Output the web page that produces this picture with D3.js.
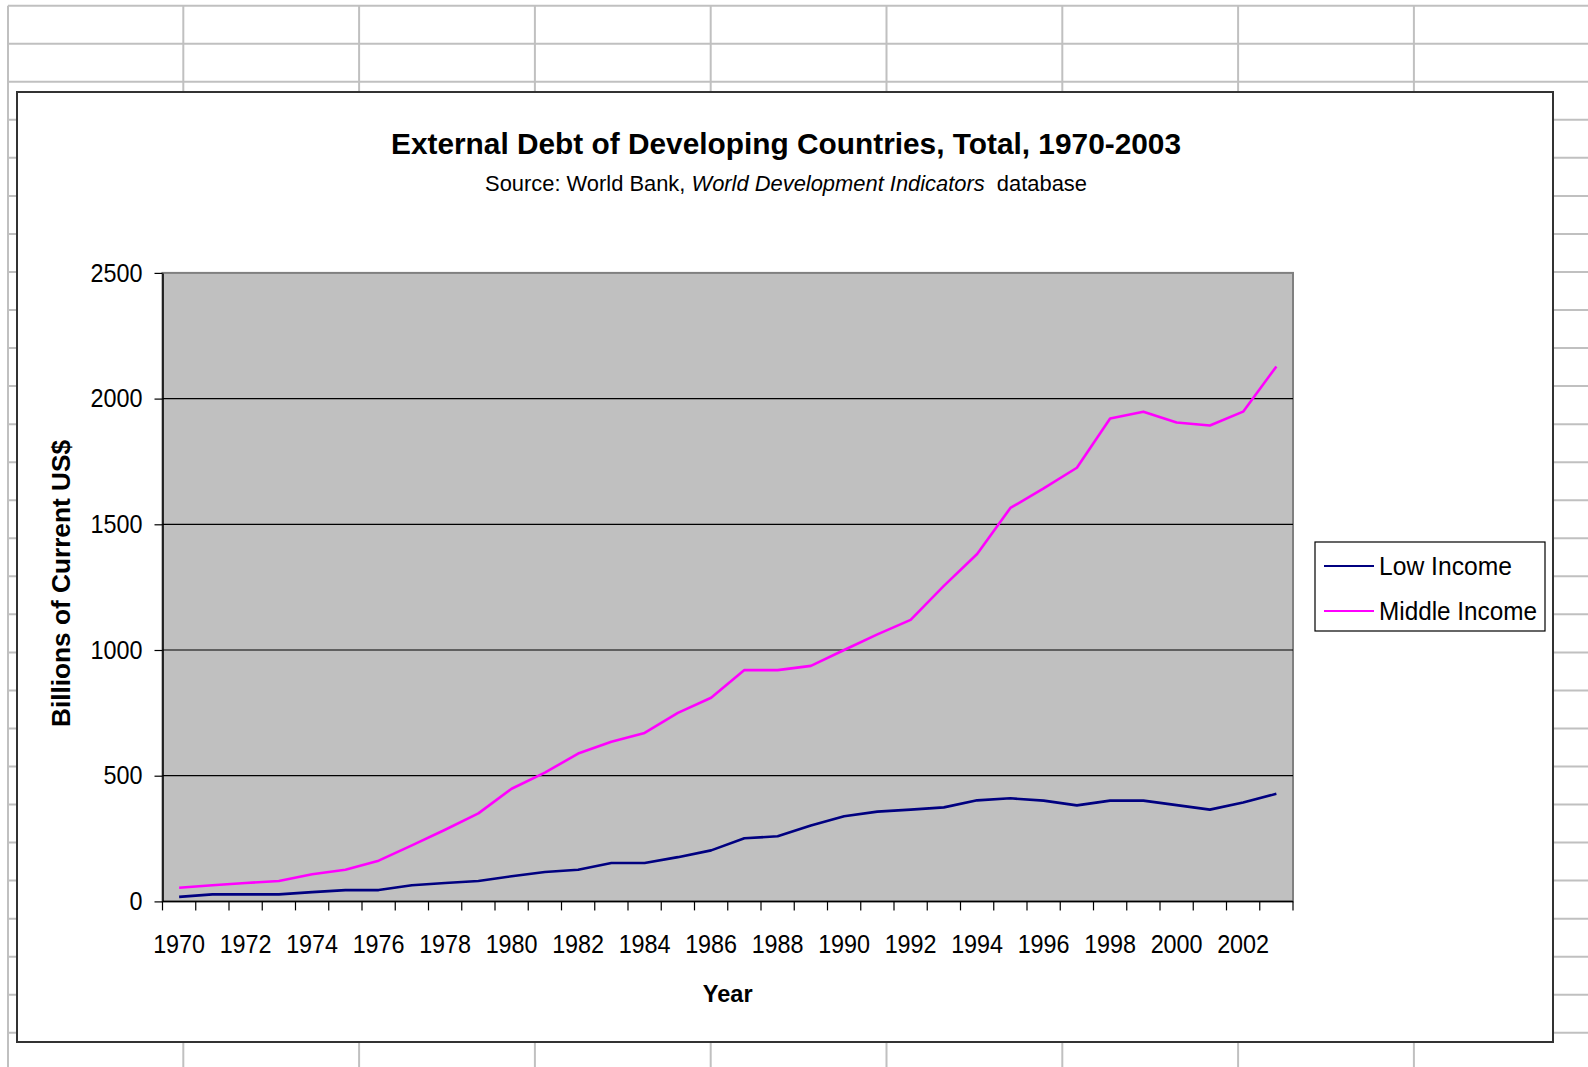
<!DOCTYPE html>
<html>
<head>
<meta charset="utf-8">
<script src="https://cdn.jsdelivr.net/npm/d3@7"></script>
<style>
  html, body { margin: 0; padding: 0; background: #fff; }
  svg { display: block; font-family: "Liberation Sans", Arial, sans-serif; }
</style>
</head>
<body>
<div id="chart"></div>
<script>
// years on the category axis
let years = d3.range(1970, 2004);
// every other year gets a label
let yearLabels = years.filter(function (y) { return (y - 1970) % 2 === 0; });
let yTicks = [0, 500, 1000, 1500, 2000, 2500];

// Billions of current US$
let lowIncome = [18, 28, 28, 28, 37, 45, 45, 64, 73, 81, 100, 117, 126, 153, 153, 176, 203,
  251, 259, 302, 339, 357, 365, 374, 402, 410, 401, 382, 401, 401, 383, 365, 393, 428];
let middleIncome = [54, 64, 73, 81, 108, 126, 162, 223, 285, 350, 448, 512, 588, 635, 670, 750, 810,
  920, 920, 937, 1000, 1062, 1120, 1255, 1382, 1565, 1643, 1725, 1921, 1948, 1905, 1893, 1948, 2128];

let seriesNames = ["Low Income", "Middle Income"];
let seriesColors = ["#000080", "#FF00FF"];

let width = 1588;
let height = 1067;

let svg = d3.select("#chart")
  .append("svg")
  .attr("width", width)
  .attr("height", height);

// spreadsheet cells behind the chart
let grid = svg.append("g").attr("stroke", "#c0c0c0").attr("stroke-width", 2);
for (let k = 0; k < 29; k++) {
  let y = 5.7 + k * 38.04;
  grid.append("line").attr("x1", 8).attr("x2", width).attr("y1", y).attr("y2", y);
}
for (let k = 0; k < 9; k++) {
  let x = k === 0 ? 8 : 183.3 + (k - 1) * 175.8;
  grid.append("line").attr("x1", x).attr("x2", x).attr("y1", 5.7).attr("y2", height);
}

// chart area
svg.append("rect")
  .attr("x", 17).attr("y", 92)
  .attr("width", 1536).attr("height", 950)
  .attr("fill", "#fff")
  .attr("stroke", "#333")
  .attr("stroke-width", 2);

let plot = { left: 162.5, right: 1293, top: 272.9, bottom: 901.4 };

let x = d3.scaleBand()
  .domain(years)
  .range([plot.left, plot.right]);

let y = d3.scaleLinear()
  .domain([0, 2500])
  .range([plot.bottom, plot.top]);

// tick font is tall and narrow in the original
let tickFont = 25.5;
let digitWidth = 13;

// plot area
svg.append("rect")
  .attr("x", plot.left).attr("y", plot.top)
  .attr("width", plot.right - plot.left)
  .attr("height", plot.bottom - plot.top)
  .attr("fill", "#c0c0c0")
  .attr("stroke", "#808080")
  .attr("stroke-width", 2);

// gridlines
svg.append("g")
  .selectAll("line")
  .data(yTicks.filter(function (d) { return d > 0 && d < 2500; }))
  .enter()
  .append("line")
  .attr("x1", plot.left).attr("x2", plot.right)
  .attr("y1", function (d) { return y(d); })
  .attr("y2", function (d) { return y(d); })
  .attr("stroke", "#000")
  .attr("stroke-width", 1.2);

// y axis
let yAxis = svg.append("g")
  .attr("transform", "translate(" + plot.left + ",0)")
  .call(d3.axisLeft(y).tickValues(yTicks).tickFormat(d3.format("d"))
    .tickSize(8).tickPadding(12).tickSizeOuter(0));
yAxis.select(".domain").attr("stroke", "#000").attr("stroke-width", 1.5);
yAxis.selectAll(".tick line").attr("stroke", "#000").attr("stroke-width", 1.2);
yAxis.selectAll(".tick text")
  .attr("font-size", tickFont)
  .attr("font-family", "Liberation Sans, Arial, sans-serif")
  .attr("fill", "#000")
  .attr("textLength", function (d) { return String(d).length * digitWidth; })
  .attr("lengthAdjust", "spacingAndGlyphs");

// x axis: ticks at category boundaries, labels at centres
let xAxis = svg.append("g")
  .attr("transform", "translate(0," + plot.bottom + ")");
xAxis.append("line")
  .attr("x1", plot.left).attr("x2", plot.right)
  .attr("stroke", "#000").attr("stroke-width", 1.5);
xAxis.selectAll(".xtick")
  .data(years.concat([2004]))
  .enter()
  .append("line")
  .attr("class", "xtick")
  .attr("x1", function (d) { return d === 2004 ? plot.right : x(d); })
  .attr("x2", function (d) { return d === 2004 ? plot.right : x(d); })
  .attr("y1", 0).attr("y2", 9)
  .attr("stroke", "#000").attr("stroke-width", 1.2);
xAxis.selectAll(".xlabel")
  .data(yearLabels)
  .enter()
  .append("text")
  .attr("class", "xlabel")
  .attr("x", function (d) { return x(d) + x.bandwidth() / 2; })
  .attr("y", 51.8)
  .attr("text-anchor", "middle")
  .attr("font-size", tickFont)
  .attr("textLength", 4 * digitWidth)
  .attr("lengthAdjust", "spacingAndGlyphs")
  .attr("fill", "#000")
  .text(function (d) { return d; });

// lines
let line = d3.line()
  .x(function (d, i) { return x(years[i]) + x.bandwidth() / 2; })
  .y(function (d) { return y(d); });

[lowIncome, middleIncome].forEach(function (vals, i) {
  svg.append("path")
    .datum(vals)
    .attr("d", line)
    .attr("fill", "none")
    .attr("stroke", seriesColors[i])
    .attr("stroke-width", 2.6)
    .attr("stroke-linejoin", "round");
});

// titles
svg.append("text")
  .attr("x", 786).attr("y", 153.5)
  .attr("text-anchor", "middle")
  .attr("font-size", 30)
  .attr("font-weight", "bold")
  .attr("textLength", 790)
  .attr("lengthAdjust", "spacingAndGlyphs")
  .text("External Debt of Developing Countries, Total, 1970-2003");

let sub = svg.append("text")
  .attr("x", 786).attr("y", 190.5)
  .attr("text-anchor", "middle")
  .attr("font-size", 21.9);
sub.append("tspan").text("Source: World Bank, ");
sub.append("tspan").attr("font-style", "italic").text("World Development Indicators");
sub.append("tspan").text("\u00a0 database");

svg.append("text")
  .attr("transform", "translate(70,583.5) rotate(-90)")
  .attr("text-anchor", "middle")
  .attr("font-size", 25)
  .attr("font-weight", "bold")
  .attr("textLength", 287)
  .attr("lengthAdjust", "spacingAndGlyphs")
  .text("Billions of Current US$");

svg.append("text")
  .attr("x", 727.7).attr("y", 1002)
  .attr("text-anchor", "middle")
  .attr("font-size", 23.5)
  .attr("font-weight", "bold")
  .text("Year");

// legend
let legend = svg.append("g");
legend.append("rect")
  .attr("x", 1315).attr("y", 542)
  .attr("width", 230).attr("height", 89)
  .attr("fill", "#fff")
  .attr("stroke", "#000")
  .attr("stroke-width", 1.2);

let legendWidths = [133, 158];
let item = legend.selectAll(".item")
  .data(seriesNames)
  .enter()
  .append("g")
  .attr("class", "item")
  .attr("transform", function (d, i) { return "translate(0," + (566 + i * 45) + ")"; });
item.append("line")
  .attr("x1", 1324).attr("x2", 1374)
  .attr("stroke", function (d, i) { return seriesColors[i]; })
  .attr("stroke-width", 2);
item.append("text")
  .attr("x", 1379)
  .attr("dy", "0.36em")
  .attr("font-size", 25)
  .attr("textLength", function (d, i) { return legendWidths[i]; })
  .attr("lengthAdjust", "spacingAndGlyphs")
  .attr("fill", "#000")
  .text(function (d) { return d; });
</script>
</body>
</html>
